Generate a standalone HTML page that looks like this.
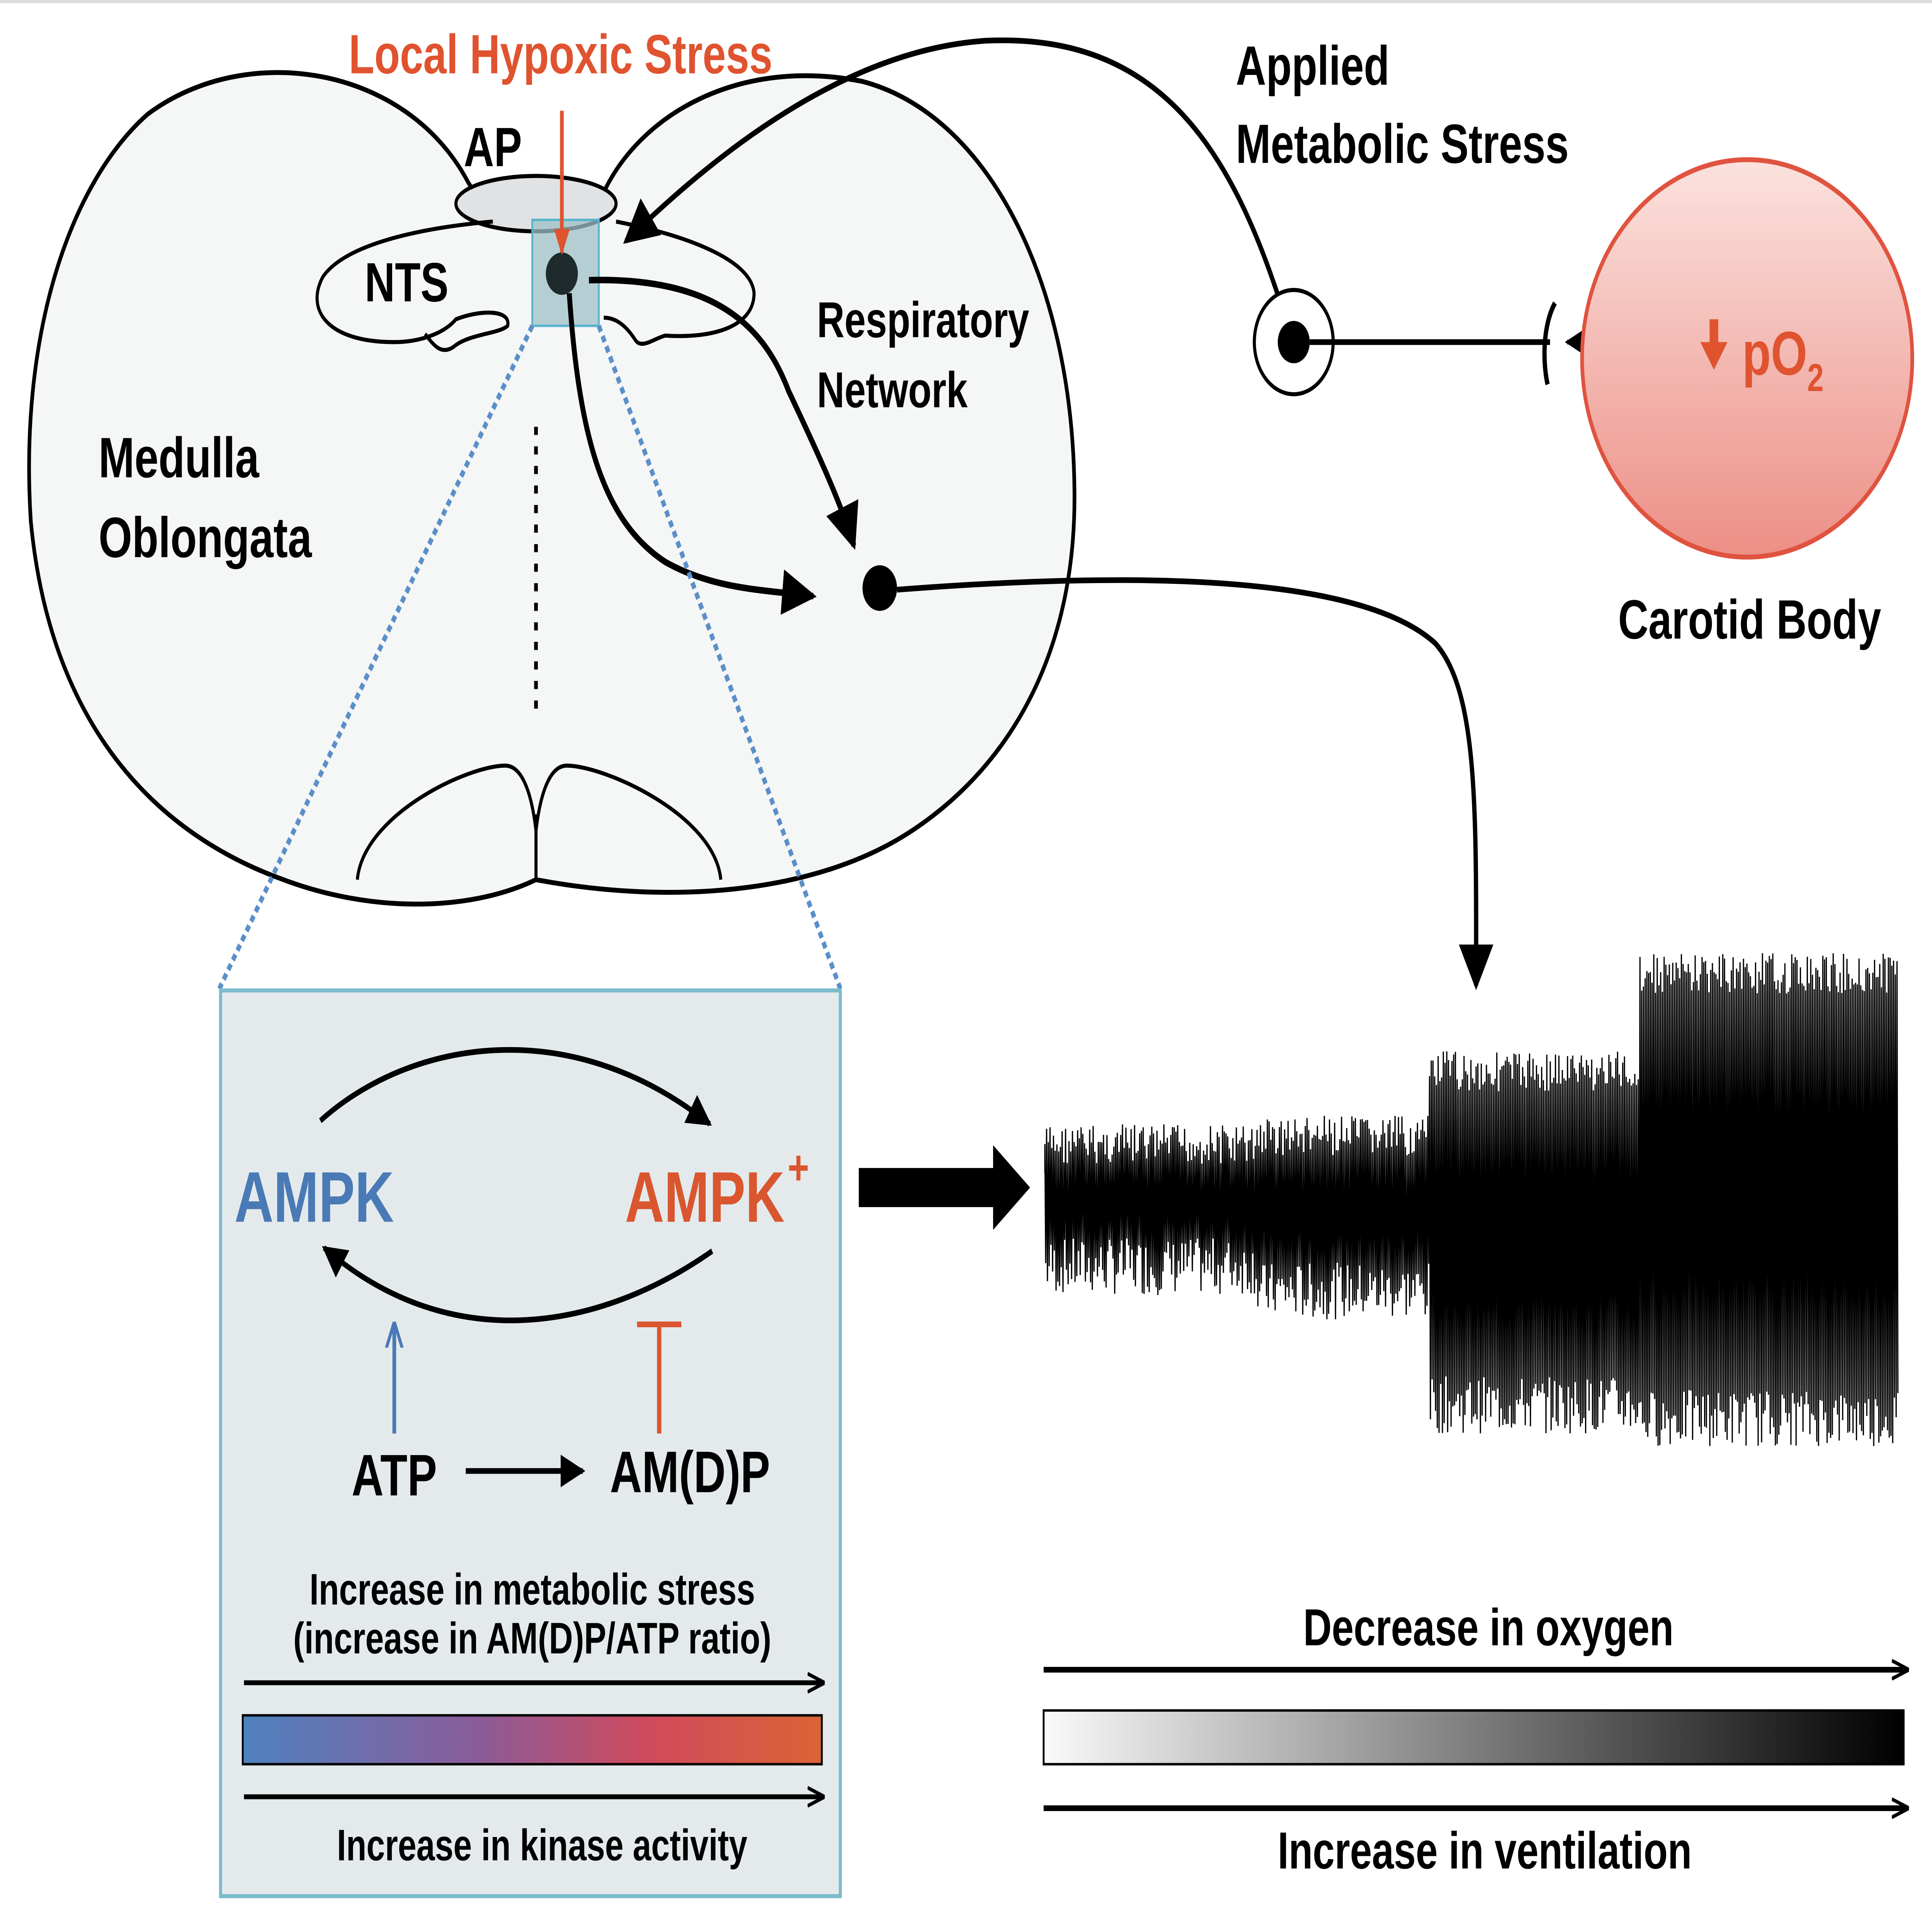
<!DOCTYPE html>
<html><head><meta charset="utf-8"><style>
html,body{margin:0;padding:0;background:#fff;width:100%;height:100%;overflow:hidden;}
svg{display:block;position:absolute;left:0;top:0;width:100vw;height:100vh;}
text{font-family:"Liberation Sans",sans-serif;font-weight:bold;}
</style></head><body>
<svg id="s" viewBox="0 0 1568 1186" preserveAspectRatio="none" overflow="hidden" xmlns="http://www.w3.org/2000/svg">
<defs>
<marker id="ahb" viewBox="0 0 10 10" refX="9" refY="5" markerWidth="28" markerHeight="28" orient="auto" markerUnits="userSpaceOnUse"><path d="M0,0 L10,5 L0,10 z" fill="#000"/></marker>
<marker id="ahs" viewBox="0 0 10 10" refX="9" refY="5" markerWidth="20" markerHeight="20" orient="auto" markerUnits="userSpaceOnUse"><path d="M0,0 L10,5 L0,10 z" fill="#000"/></marker>
<marker id="ahr" viewBox="0 0 10 10" refX="9" refY="5" markerWidth="16" markerHeight="16" orient="auto" markerUnits="userSpaceOnUse"><path d="M0,1 L10,5 L0,9 z" fill="#e0532f"/></marker>
<marker id="ahbl" viewBox="0 0 10 10" refX="9" refY="5" markerWidth="16" markerHeight="16" orient="auto" markerUnits="userSpaceOnUse"><path d="M0,1 L10,5 L0,9" fill="none" stroke="#4a7ab5" stroke-width="1.5"/></marker>
<marker id="aho" viewBox="0 0 10 10" refX="9" refY="5" markerWidth="14" markerHeight="14" orient="auto" markerUnits="userSpaceOnUse"><path d="M0,1 L10,5 L0,9" fill="none" stroke="#000" stroke-width="1.6"/></marker>
<linearGradient id="kin" x1="0" x2="1"><stop offset="0" stop-color="#4f82bf"/><stop offset="0.4" stop-color="#8a5c9a"/><stop offset="0.7" stop-color="#cf4a5c"/><stop offset="1" stop-color="#da6436"/></linearGradient>
<linearGradient id="oxy" x1="0" x2="1"><stop offset="0" stop-color="#fafafa"/><stop offset="1" stop-color="#000"/></linearGradient>
<linearGradient id="cb" x1="0" y1="0" x2="0" y2="1"><stop offset="0" stop-color="#fbe2de"/><stop offset="1" stop-color="#ec8f86"/></linearGradient>
</defs>
<rect width="1568" height="1186" fill="#fff"/>
<line x1="0" y1="1" x2="1568" y2="1" stroke="#ddd" stroke-width="2"/>
<path d="M435,540 C380,560 300,560 230,540 C120,510 40,440 25,320 C15,200 60,110 120,70 C200,25 330,40 380,112 L385,118 L490,118 C520,70 600,35 700,50 C800,70 870,170 872,300 C874,400 820,470 740,510 C660,550 540,555 435,540 Z" fill="#f5f6f6" stroke="#000" stroke-width="3"/>
<ellipse cx="435" cy="125" rx="65" ry="17" fill="#e0e2e3" stroke="#000" stroke-width="2.5"/>
<path d="M400,136 C340,140 280,150 262,170 C248,190 265,210 320,210 C340,210 360,205 370,196 C390,190 415,190 412,200 C405,205 380,205 368,213 C358,218 352,212 345,205" fill="none" stroke="#000" stroke-width="2.5"/>
<path d="M500,136 C560,145 610,160 612,180 C612,200 580,208 540,206 C530,208 520,215 515,208 C508,200 500,195 490,195" fill="none" stroke="#000" stroke-width="2.5"/>
<path d="M290,540 C295,500 380,470 410,470 C425,470 432,490 435,510 C438,490 445,470 460,470 C490,470 580,500 585,540" fill="none" stroke="#000" stroke-width="2.5"/>
<path d="M435,500 L435,540" stroke="#000" stroke-width="2.5"/>
<line x1="435" y1="262" x2="435" y2="435" stroke="#000" stroke-width="3" stroke-dasharray="5,7"/>
<rect x="432" y="135" width="54" height="65" fill="#9fc0c8" fill-opacity="0.75" stroke="#5ab3cf" stroke-width="1.5"/>
<circle cx="456" cy="168" r="13" fill="#1e2a2c"/>
<line x1="456" y1="68" x2="456" y2="155" stroke="#e0532f" stroke-width="3" marker-end="url(#ahr)"/>
<text x="455" y="45" font-size="34" fill="#e0532f" text-anchor="middle">Local Hypoxic Stress</text>
<text x="400" y="102" font-size="34" text-anchor="middle">AP</text>
<text x="330" y="185" font-size="34" text-anchor="middle">NTS</text>
<text x="663" y="207" font-size="31">Respiratory</text>
<text x="663" y="250" font-size="31">Network</text>
<text x="80" y="293" font-size="35">Medulla</text>
<text x="80" y="342" font-size="35">Oblongata</text>
<path d="M462,180 C470,270 490,320 540,345 C580,362 620,362 660,366" fill="none" stroke="#000" stroke-width="4" marker-end="url(#ahb)"/>
<path d="M478,172 C580,170 620,200 640,240 C665,280 683,310 693,335" fill="none" stroke="#000" stroke-width="4" marker-end="url(#ahb)"/>
<circle cx="714" cy="361" r="14" fill="#000"/>
<path d="M728,362 C900,352 1100,350 1165,395 C1200,425 1198,500 1198,605" fill="none" stroke="#000" stroke-width="3.5" marker-end="url(#ahb)"/>
<path d="M1043,195 C1000,90 940,20 800,25 C700,30 600,80 508,148" fill="none" stroke="#000" stroke-width="3.5" marker-end="url(#ahb)"/>
<text x="1003" y="52" font-size="34">Applied</text>
<text x="1003" y="100" font-size="34">Metabolic Stress</text>
<circle cx="1050" cy="210" r="32" fill="#fff" stroke="#000" stroke-width="2.5"/>
<circle cx="1050" cy="210" r="13" fill="#000"/>
<line x1="1063" y1="210" x2="1258" y2="210" stroke="#000" stroke-width="3.5"/>
<path d="M1262,186 C1252,200 1252,222 1256,236" fill="none" stroke="#000" stroke-width="3.5"/>
<line x1="1368" y1="210" x2="1272" y2="210" stroke="#000" stroke-width="3" marker-end="url(#ahs)"/>
<ellipse cx="1418" cy="220" rx="134" ry="122" fill="url(#cb)" stroke="#e0533f" stroke-width="3"/>
<path d="M1391,196 L1391,214" stroke="#e0532f" stroke-width="7"/>
<path d="M1380,210 L1391,227 L1402,210 z" fill="#e0532f"/>
<text x="1414" y="230" font-size="38" fill="#e0532f">pO<tspan font-size="24" dy="10">2</tspan></text>
<text x="1420" y="392" font-size="34" text-anchor="middle">Carotid Body</text>
<line x1="432" y1="200" x2="178" y2="607" stroke="#5b8fc9" stroke-width="3.5" stroke-dasharray="4,3"/>
<line x1="486" y1="200" x2="682" y2="607" stroke="#5b8fc9" stroke-width="3.5" stroke-dasharray="4,3"/>
<rect x="179" y="608" width="503" height="556" fill="#e4eaec" stroke="#7cbccd" stroke-width="2.5"/>
<path d="M260,688 C330,640 460,620 576,690" fill="none" stroke="#000" stroke-width="3.5" marker-end="url(#ahs)"/>
<path d="M578,768 C480,820 360,830 263,766" fill="none" stroke="#000" stroke-width="3.5" marker-end="url(#ahs)"/>
<text x="255" y="750" font-size="44" fill="#4a7ab5" text-anchor="middle">AMPK</text>
<text x="572" y="750" font-size="44" fill="#d9562f" text-anchor="middle">AMPK</text>
<text x="648" y="727" font-size="30" fill="#d9562f" text-anchor="middle">+</text>
<line x1="320" y1="880" x2="320" y2="813" stroke="#4a7ab5" stroke-width="3" marker-end="url(#ahbl)"/>
<line x1="535" y1="880" x2="535" y2="813" stroke="#d9562f" stroke-width="3.5"/>
<line x1="517" y1="813" x2="553" y2="813" stroke="#d9562f" stroke-width="3.5"/>
<text x="320" y="918" font-size="36" text-anchor="middle">ATP</text>
<line x1="378" y1="903" x2="473" y2="903" stroke="#000" stroke-width="3.5" marker-end="url(#ahs)"/>
<text x="560" y="916" font-size="36" text-anchor="middle">AM(D)P</text>
<text x="432" y="985" font-size="27" text-anchor="middle">Increase in metabolic stress</text>
<text x="432" y="1015" font-size="27" text-anchor="middle">(increase in AM(D)P/ATP ratio)</text>
<line x1="198" y1="1033" x2="668" y2="1033" stroke="#000" stroke-width="3" marker-end="url(#aho)"/>
<rect x="197" y="1053" width="470" height="30" fill="url(#kin)" stroke="#000" stroke-width="1.5"/>
<line x1="198" y1="1103" x2="668" y2="1103" stroke="#000" stroke-width="3" marker-end="url(#aho)"/>
<text x="440" y="1142" font-size="27" text-anchor="middle">Increase in kinase activity</text>
<path d="M697,717 L806,717 L806,703 L836,729 L806,755 L806,741 L697,741 z" fill="#000"/>
<path id="wave" d="" fill="none" stroke="#000" stroke-width="1"/>
<text x="1208" y="1010" font-size="32" text-anchor="middle">Decrease in oxygen</text>
<line x1="847" y1="1025" x2="1548" y2="1025" stroke="#000" stroke-width="3.5" marker-end="url(#aho)"/>
<rect x="847" y="1050" width="698" height="33" fill="url(#oxy)" stroke="#000" stroke-width="1.5"/>
<line x1="847" y1="1110" x2="1548" y2="1110" stroke="#000" stroke-width="3.5" marker-end="url(#aho)"/>
<text x="1205" y="1147" font-size="32" text-anchor="middle">Increase in ventilation</text>
</svg>
<script>
(function(){
var d="M848,720";var seed=7;function r(){seed=(seed*9301+49297)%233280;return seed/233280;}
for(var x=848;x<=1540;x+=1.4){
 var top,bot;
 if(x<1020){top=690;bot=795;}
 else if(x<1160){top=685;bot=810;}
 else if(x<1330){top=645;bot=880;}
 else {top=585;bot=888;}
 var up=top+r()*25, dn=bot-r()*35;
 d+=" L"+x.toFixed(1)+","+up.toFixed(1)+" L"+(x+0.7).toFixed(1)+","+dn.toFixed(1);
}
document.getElementById("wave").setAttribute("d",d);
})();
</script>
</body></html>
